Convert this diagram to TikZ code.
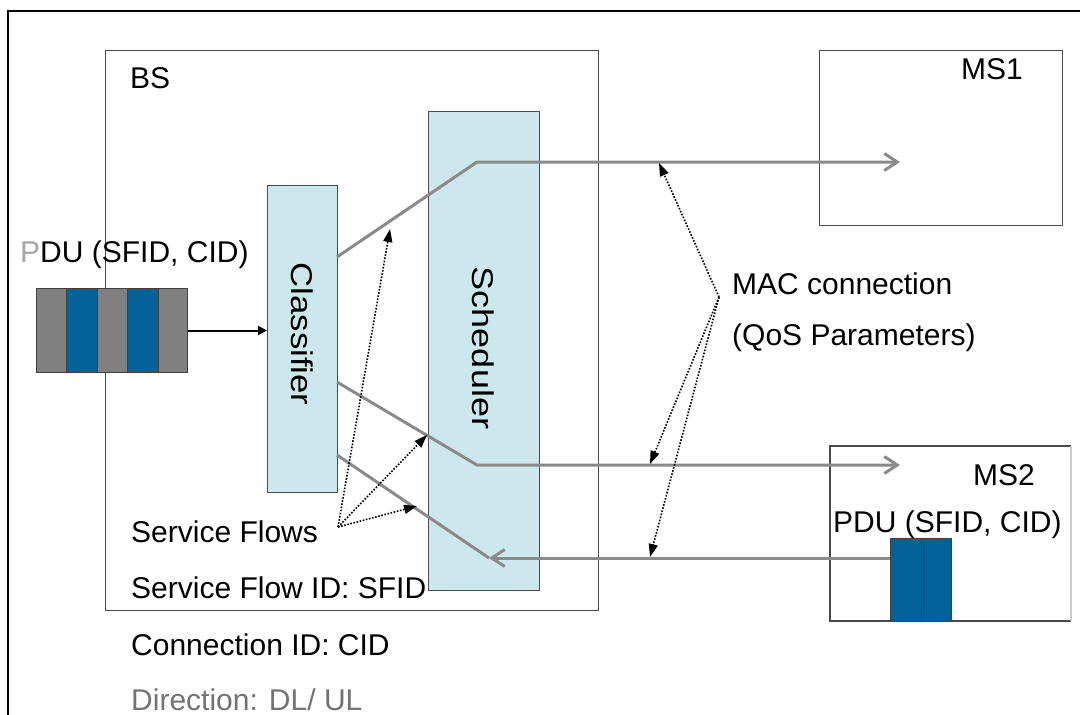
\documentclass[tikz,border=0pt]{standalone}
\usepackage{fontspec}
\setmainfont{Liberation Sans}
\usetikzlibrary{arrows.meta,calc}
\definecolor{boxfill}{HTML}{CDE8EC}
\definecolor{pdublue}{HTML}{03629A}
\definecolor{pdugray}{HTML}{808080}
\definecolor{flowgray}{HTML}{8A8A8A}
\definecolor{edgegray}{HTML}{4A4A4A}
\tikzset{
  txt/.style={anchor=base west,inner sep=0pt,font=\fontsize{30}{36}\selectfont},
  frame/.style={draw=edgegray,line width=1.3pt,inner sep=0pt,anchor=north west},
  block/.style={draw=edgegray,fill=boxfill,line width=1.2pt,inner sep=0pt,anchor=north west},
  stripe/.style={draw=black!75,line width=1pt,inner sep=0pt,anchor=north west,minimum height=84pt},
  flow/.style={draw=flowgray,line width=3pt},
  flowarrow/.style={flow,-{Straight Barb[length=13pt,width=17pt,line width=3pt]}},
  hint/.style={draw=black,line width=1.6pt,dash pattern=on 1.6pt off 1.6pt,-{Triangle[length=13pt,width=9pt]}},
}
\begin{document}
\begin{tikzpicture}[x=1pt,y=-1pt]
\useasboundingbox (0,0) rectangle (1080,715);
\clip (0,0) rectangle (1080,715);
\fill[white] (0,0) rectangle (1080,715);
% outer frame (top and left)
\draw[line width=2.6pt,black] (8,715) -- (8,11) -- (1080,11);

% BS box
\node[frame,minimum width=493pt,minimum height=560pt] (bs) at (105,50) {};
\node[txt] (bslabel) at (130,88) {BS};

% MS boxes
\node[frame,minimum width=243pt,minimum height=175pt] (ms1) at (819,50) {};
\node[txt] (ms1label) at (961,79) {MS1};
\coordinate (ms2nw) at (830,446);
\coordinate (ms2se) at (1071,621);
\draw[edgegray,line width=1.3pt] (ms2se) -- (ms2nw |- ms2se) -- (ms2nw) -- (ms2se |- ms2nw);
\draw[black!20,line width=1.3pt] (ms2se |- ms2nw) -- (ms2se);
\node[txt] (ms2label) at (973,485) {MS2};

% Classifier and Scheduler
\node[block,minimum width=70pt,minimum height=307pt] (cls) at (267,185) {};
\node[inner sep=0pt,rotate=-90,font=\fontsize{30}{36}\selectfont] (clstext) at (302,334) {\scalebox{1.16}[1]{Classifier}};
\node[block,minimum width=111pt,minimum height=479pt] (sch) at (428,111) {};
\node[inner sep=0pt,rotate=-90,font=\fontsize{30}{36}\selectfont] (schtext) at (483,348) {\scalebox{1.2}[1]{Scheduler}};

% left PDU label and stack
\node[txt] (pdulabel) at (20,262) {\textcolor{black!35}{P}DU (SFID, CID)};
\node[stripe,fill=pdugray,minimum width=30pt] (s1) at (36,288) {};
\node[stripe,fill=pdublue,minimum width=31pt] (s2) at (66,288) {};
\node[stripe,fill=pdugray,minimum width=30pt] (s3) at (97,288) {};
\node[stripe,fill=pdublue,minimum width=31pt] (s4) at (127,288) {};
\node[stripe,fill=pdugray,minimum width=29pt] (s5) at (158,288) {};
\draw[black,line width=2pt,-{Triangle[length=9pt,width=9pt]}] (s5.east) -- (s5.east -| cls.west);

% MS2 PDU
\node[txt] (pdu2label) at (833,532) {PDU (SFID, CID)};
\node[stripe,fill=pdublue,minimum width=31pt,minimum height=83pt] (p1) at (890,538) {};
\node[stripe,fill=pdublue,minimum width=30pt,minimum height=83pt] (p2) at (921,538) {};

% flow lines
\coordinate (c1) at (337,257);
\coordinate (b1) at (477,162);
\coordinate (e1) at (900,162);
\coordinate (c2) at (337,382);
\coordinate (b2) at (477,465);
\coordinate (e2) at (900,465);
\coordinate (c3) at (337,455);
\coordinate (b3) at (489,558);
\coordinate (e3) at (890,558);
\draw[flowarrow] (c1) -- (b1) -- (e1);
\draw[flowarrow] (c2) -- (b2) -- (e2);
\draw[flowarrow] (e3) -- (b3);
\draw[flow] (b3) -- (c3);

% texts bottom-left
\node[txt] (sflows) at (131,542) {Service Flows};
\node[txt] (sfid) at (131,598) {Service Flow ID: SFID};
\node[txt] (cid) at (131,655) {Connection ID: CID};
\node[txt,text=black!55] (dir) at (131,710) {Direction: DL/ UL};

% MAC connection label
\node[txt] (mac) at (732,294) {MAC connection};
\node[txt] (qos) at (732,345) {(QoS Parameters)};

% dotted hint arrows
\coordinate (sfp) at (338,527);
\coordinate (t1) at (390,229);
\coordinate (t2) at (427,435);
\coordinate (t3) at (417,506);
\draw[hint] (sfp) -- (t1);
\draw[hint] (sfp) -- (t2);
\draw[hint] (sfp) -- (t3);
\coordinate (macp) at (719,297);
\coordinate (m1) at (659,163);
\coordinate (m2) at (650,464);
\coordinate (m3) at (650,557);
\draw[hint] (macp) -- (m1);
\draw[hint] (macp) -- (m2);
\draw[hint] (macp) -- (m3);
\end{tikzpicture}
\end{document}
